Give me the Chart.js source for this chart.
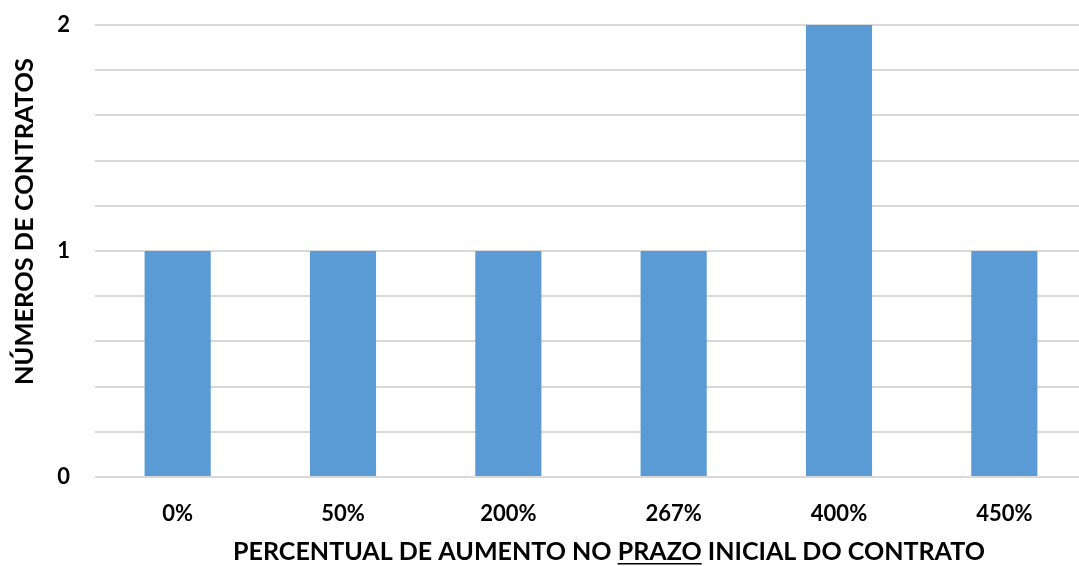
<!DOCTYPE html>
<html>
<head>
<meta charset="utf-8">
<script src="https://cdn.jsdelivr.net/npm/chart.js@4.4.1/dist/chart.umd.min.js"></script>
<style>
  html, body { margin: 0; padding: 0; background: #fff; overflow: hidden; }
  #wrap { position: relative; width: 1087px; height: 566px; }
</style>
</head>
<body>
<div id="wrap"><canvas id="canvas-1"></canvas></div>
<script>
// data
const categories = ['0%', '50%', '200%', '267%', '400%', '450%']
const contracts = [1, 1, 1, 1, 2, 1]
const yMin = 0
const yMax = 2
const yStep = 0.2
const yTitle = 'NÚMEROS DE CONTRATOS'
const xTitleParts = ['PERCENTUAL DE AUMENTO NO ', 'PRAZO', ' INICIAL DO CONTRATO']

const FONT = 'Lato'
const barColor = '#5b9bd5'
const gridColor = '#d9d9d9'

// axis titles drawn by hand so that "PRAZO" can be underlined
const axisTitles = {
  id: 'axisTitles',
  afterDraw(chart) {
    const ctx = chart.ctx
    ctx.save()
    ctx.fillStyle = '#000'
    ctx.textBaseline = 'alphabetic'

    // x title
    let size = 22
    ctx.font = 'bold ' + size + 'px ' + FONT
    const full = xTitleParts.join('')
    size = size * 752 / ctx.measureText(full).width
    ctx.font = 'bold ' + size + 'px ' + FONT
    const total = ctx.measureText(full).width
    const x0 = 609 - total / 2
    const baseY = 560
    ctx.textAlign = 'left'
    ctx.fillText(full, x0, baseY)
    const before = ctx.measureText(xTitleParts[0]).width
    const word = ctx.measureText(xTitleParts[1]).width
    ctx.fillRect(x0 + before, baseY + 3, word, 1.5)

    // y title
    let ys = 22
    ctx.font = 'bold ' + ys + 'px ' + FONT
    ys = ys * 327 / ctx.measureText(yTitle).width
    ctx.font = 'bold ' + ys + 'px ' + FONT
    ctx.translate(23.5, 221.5)
    ctx.rotate(-Math.PI / 2)
    ctx.textAlign = 'center'
    ctx.fillText(yTitle, 0, ys * 0.36)
    ctx.restore()
  }
}

// eslint-disable-next-line no-unused-vars
const barChart = new Chart(document.getElementById('canvas-1'), {
  type: 'bar',
  data: {
    labels: categories,
    datasets: [{
      data: contracts,
      backgroundColor: barColor,
      borderWidth: 0,
      barPercentage: 0.4,
      categoryPercentage: 1
    }]
  },
  options: {
    responsive: true,
    maintainAspectRatio: false,
    animation: false,
    layout: { padding: { top: 25, right: 0, left: 0, bottom: 0 } },
    plugins: {
      legend: { display: false },
      tooltip: { enabled: false }
    },
    scales: {
      x: {
        grid: { display: false, drawTicks: false },
        border: { display: false },
        ticks: {
          color: '#000',
          font: { family: FONT, size: 22, weight: 'bold' },
          padding: 24,
          maxRotation: 0,
          autoSkip: false
        },
        afterFit(scale) {
          scale.height = 89
          scale.paddingLeft = 0
          scale.paddingRight = 0
        }
      },
      y: {
        min: yMin,
        max: yMax,
        grid: { color: gridColor, lineWidth: 2, drawTicks: false },
        border: { display: false },
        ticks: {
          stepSize: yStep,
          autoSkip: false,
          color: '#000',
          font: { family: FONT, size: 22, weight: 'bold' },
          padding: 25,
          callback: v => Math.abs(v - Math.round(v)) < 1e-6 ? String(Math.round(v)) : ''
        },
        afterFit(scale) {
          scale.width = 95
          scale.paddingTop = 0
          scale.paddingBottom = 0
        }
      }
    }
  },
  plugins: [axisTitles]
})
</script>
</body>
</html>
